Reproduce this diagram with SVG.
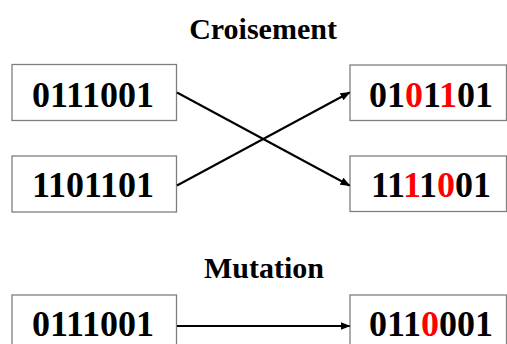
<svg xmlns="http://www.w3.org/2000/svg" width="507" height="344" viewBox="0 0 507 344">
<style>
.box{fill:#fff;stroke:#7f7f7f;stroke-width:1.3}
.t{font-family:"Liberation Serif","Times New Roman",serif;font-weight:bold;font-size:36px;fill:#000;text-anchor:middle}
.h{font-family:"Liberation Serif","Times New Roman",serif;font-weight:bold;font-size:30px;fill:#000;text-anchor:middle}
.r{fill:#ff0000}
.c{stroke:#000;stroke-width:2;fill:none;marker-end:url(#a)}
</style>
<defs>
<marker id="a" markerWidth="10" markerHeight="8" refX="9" refY="4" orient="auto" markerUnits="userSpaceOnUse">
<path d="M0,0 L10,4 L0,8 z" fill="#000"/>
</marker>
</defs>
<text class="h" x="263" y="39">Croisement</text>
<text class="h" x="264" y="278">Mutation</text>
<g id="p1"><rect class="box" x="12" y="64.5" width="164.5" height="56"/><text class="t" x="93" y="107">0111001</text></g>
<g id="p2"><rect class="box" x="12" y="156" width="164.5" height="56"/><text class="t" x="93" y="197">1101101</text></g>
<g id="c1"><rect class="box" x="350" y="65" width="156.5" height="55.5"/><text class="t" x="431" y="107">01<tspan class="r">0</tspan>1<tspan class="r">1</tspan>01</text></g>
<g id="c2"><rect class="box" x="350" y="156" width="156.5" height="55.5"/><text class="t" x="431" y="197">11<tspan class="r">1</tspan>1<tspan class="r">0</tspan>01</text></g>
<g id="m1"><rect class="box" x="12" y="295" width="164.5" height="60"/><text class="t" x="93" y="336">0111001</text></g>
<g id="m2"><rect class="box" x="350" y="295" width="156.5" height="60"/><text class="t" x="431" y="336">011<tspan class="r">0</tspan>001</text></g>
<g id="connectors">
<line class="c" x1="177" y1="92.5" x2="349.5" y2="185.5"/>
<line class="c" x1="177" y1="185.5" x2="349.5" y2="92.5"/>
<line class="c" x1="177" y1="326" x2="349.5" y2="326"/>
</g>
</svg>
